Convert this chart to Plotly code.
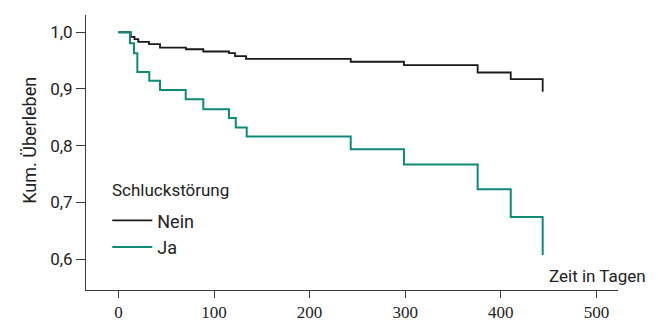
import plotly.graph_objects as go

# Kaplan-Meier estimates (time in days, cumulative survival)
nein_t = [0, 12.9, 16.8, 20.8, 32.0, 43.5, 70.7, 88.8, 115.7, 122.0, 133.5, 243.0, 298.7, 375.8, 410.4, 443.8]
nein_s = [1.0, 0.992, 0.988, 0.983, 0.979, 0.973, 0.970, 0.966, 0.963, 0.958, 0.953, 0.948, 0.942, 0.929, 0.9175, 0.895]

ja_t = [0, 12.1, 16.3, 19.8, 32.3, 43.5, 70.4, 88.8, 115.7, 122.8, 134.2, 243.0, 298.7, 375.8, 410.4, 443.8]
ja_s = [1.0, 0.9805, 0.963, 0.930, 0.9145, 0.898, 0.882, 0.864, 0.849, 0.832, 0.816, 0.7936, 0.767, 0.723, 0.674, 0.607]

x_ticks = [0, 100, 200, 300, 400, 500]
y_ticks = [0.6, 0.7, 0.8, 0.9, 1.0]
y_ticktext = ["0,6", "0,7", "0,8", "0,9", "1,0"]

SANS = "Roboto, 'Open Sans', sans-serif"
SERIF = "'Liberation Serif', 'DejaVu Serif', serif"
AXIS = "#3a3a3a"

fig = go.Figure()
fig.add_trace(go.Scatter(x=nein_t, y=nein_s, mode="lines", name="Nein",
                         line=dict(color="#1a1a1a", width=1.8, shape="hv")))
fig.add_trace(go.Scatter(x=ja_t, y=ja_s, mode="lines", name="Ja",
                         line=dict(color="#0e8a78", width=2, shape="hv")))

fig.update_layout(
    width=662, height=326,
    margin=dict(l=86, r=44, t=15, b=36, autoexpand=False),
    paper_bgcolor="white", plot_bgcolor="white",
    showlegend=True,
    legend=dict(
        x=0.04, y=0.319, xanchor="left", yanchor="top",
        font=dict(family=SANS, size=18, color="#222"),
        bgcolor="rgba(0,0,0,0)", itemwidth=40,
    ),
    xaxis=dict(
        range=[-33.9, 522.6], tickvals=x_ticks, ticks="outside", ticklen=7,
        tickcolor=AXIS, showline=True, linecolor=AXIS, linewidth=1,
        showgrid=False, zeroline=False,
        tickfont=dict(family=SERIF, size=17, color="#222"),
    ),
    yaxis=dict(
        range=[0.5455, 1.0304], tickvals=y_ticks, ticktext=y_ticktext,
        ticks="outside", ticklen=9, tickcolor=AXIS, showline=True,
        linecolor=AXIS, linewidth=1, showgrid=False, zeroline=False,
        tickfont=dict(family=SANS, size=17, color="#222"),
    ),
    annotations=[
        dict(text="Kum. Überleben", textangle=-90, xref="paper", yref="paper",
             x=-0.106, y=0.545, xanchor="center", yanchor="middle", showarrow=False,
             font=dict(family=SANS, size=18, color="#222")),
        dict(text="Zeit in Tagen", xref="paper", yref="paper",
             x=1.0564, y=0.05, xanchor="right", yanchor="middle", showarrow=False,
             font=dict(family=SANS, size=17, color="#222")),
        dict(text="Schluckstörung", xref="paper", yref="paper",
             x=0.045, y=0.3647, xanchor="left", yanchor="middle", showarrow=False,
             font=dict(family=SANS, size=17, color="#222")),
    ],
)

fig.write_html("out.html", config={"displayModeBar": False},
               post_script="document.body.style.margin='0';")
